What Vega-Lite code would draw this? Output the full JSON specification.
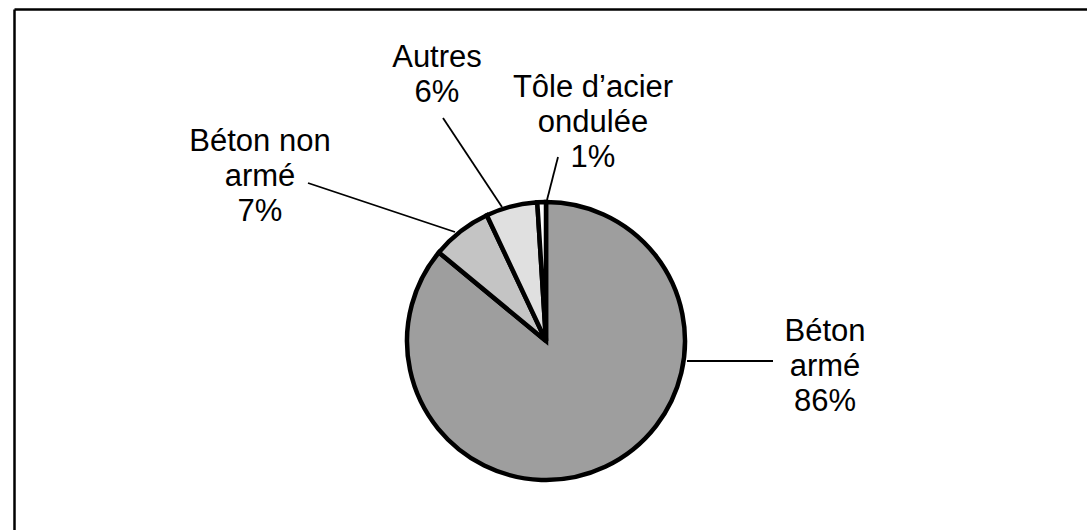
{
  "$schema": "https://vega.github.io/schema/vega-lite/v6.json",
  "width": 1073,
  "height": 521,
  "autosize": {"type": "none"},
  "padding": {"left": 14, "top": 9, "right": 0, "bottom": 0},
  "background": "white",
  "config": {"view": {"stroke": null}, "font": "Liberation Sans"},
  "datasets": {
    "pie": [
      {"label": "Béton armé", "pct": 86, "ord": 1},
      {"label": "Béton non armé", "pct": 7, "ord": 2},
      {"label": "Autres", "pct": 6, "ord": 3},
      {"label": "Tôle d’acier ondulée", "pct": 1, "ord": 4}
    ],
    "leaders": [
      {"label": "Béton non armé", "x": 294, "y": 174, "x2": 441, "y2": 223},
      {"label": "Autres", "x": 429, "y": 109, "x2": 488, "y2": 198},
      {"label": "Tôle d’acier ondulée", "x": 544, "y": 148, "x2": 533, "y2": 191},
      {"label": "Béton armé", "x": 673, "y": 352, "x2": 759, "y2": 352}
    ],
    "labels": [
      {"text": "Béton non\narmé\n7%", "x": 246, "y": 142},
      {"text": "Autres\n6%", "x": 423, "y": 58},
      {"text": "Tôle d’acier\nondulée\n1%", "x": 579, "y": 88},
      {"text": "Béton\narmé\n86%", "x": 811, "y": 332}
    ]
  },
  "layer": [
    {
      "data": {"name": "leaders"},
      "mark": {"type": "rule", "color": "black", "strokeWidth": 1.8},
      "encoding": {
        "x": {
          "field": "x", "type": "quantitative",
          "scale": {"domain": [0, 1073], "nice": false, "zero": false},
          "axis": {"orient": "top", "domain": true, "domainColor": "black", "domainWidth": 2.5, "ticks": false, "labels": false, "grid": false, "title": null}
        },
        "y": {
          "field": "y", "type": "quantitative",
          "scale": {"domain": [0, 521], "nice": false, "zero": false, "reverse": true},
          "axis": {"orient": "left", "domain": true, "domainColor": "black", "domainWidth": 2.5, "ticks": false, "labels": false, "grid": false, "title": null}
        },
        "x2": {"field": "x2"},
        "y2": {"field": "y2"}
      }
    },
    {
      "data": {"name": "pie"},
      "mark": {"type": "arc", "outerRadius": 139, "stroke": "black", "strokeWidth": 4.5, "strokeJoin": "miter"},
      "encoding": {
        "theta": {"field": "pct", "type": "quantitative", "stack": true},
        "order": {"field": "ord", "type": "quantitative"},
        "color": {
          "field": "label", "type": "nominal",
          "scale": {
            "domain": ["Béton armé", "Béton non armé", "Autres", "Tôle d’acier ondulée"],
            "range": ["#9e9e9e", "#c4c4c4", "#e0e0e0", "#ffffff"]
          },
          "legend": null
        },
        "x": {"datum": 532, "type": "quantitative"},
        "y": {"datum": 332, "type": "quantitative"}
      }
    },
    {
      "data": {"name": "labels"},
      "mark": {"type": "text", "fontSize": 31, "lineHeight": 35, "lineBreak": "\n", "align": "center", "baseline": "alphabetic", "color": "black"},
      "encoding": {
        "x": {"field": "x", "type": "quantitative"},
        "y": {"field": "y", "type": "quantitative"},
        "text": {"field": "text"}
      }
    }
  ]
}
